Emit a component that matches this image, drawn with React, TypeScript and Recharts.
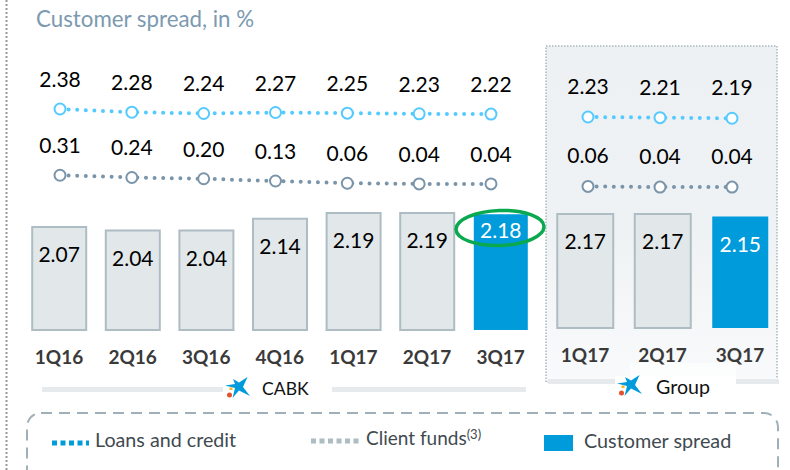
import React from "react";
import { ComposedChart, Bar, Line, XAxis, YAxis, Cell, LabelList } from "recharts";

const cabkQuarters = ["1Q16", "2Q16", "3Q16", "4Q16", "1Q17", "2Q17", "3Q17"];
const cabkLoans = [2.38, 2.28, 2.24, 2.27, 2.25, 2.23, 2.22];
const cabkFunds = [0.31, 0.24, 0.2, 0.13, 0.06, 0.04, 0.04];
const cabkSpread = [2.07, 2.04, 2.04, 2.14, 2.19, 2.19, 2.18];

const groupQuarters = ["1Q17", "2Q17", "3Q17"];
const groupLoans = [2.23, 2.21, 2.19];
const groupFunds = [0.06, 0.04, 0.04];
const groupSpread = [2.17, 2.17, 2.15];

const FONT = "Lato, Carlito, sans-serif";
const BLUE = "#009bdb";
const LOAN = "#55caff";
const FUND = "#7a94aa";
const GREY = "#e2e7ea";
const GREY_EDGE = "#aebcc4";

const build = (q: string[], l: number[], f: number[], s: number[]) =>
  q.map((quarter, i) => ({ quarter, loans: l[i], funds: f[i], spread: s[i] }));

const cabkData = build(cabkQuarters, cabkLoans, cabkFunds, cabkSpread);
const groupData = build(groupQuarters, groupLoans, groupFunds, groupSpread);

const fmt = (v: any) => Number(v).toFixed(2);

function barLabel(lastIndex: number, raisedIndex: number | null, lastOffset: number) {
  return (p: any) => {
    const { x, y, width, value, index } = p;
    const isLast = index === lastIndex;
    const dy = index === raisedIndex ? 24 : isLast ? lastOffset : 35;
    return (
      <text
        x={x + width / 2}
        y={y + dy}
        textAnchor="middle"
        fontFamily={FONT}
        fontSize={21}
        fill={isLast ? "#fff" : "#000"}
      >
        {fmt(value)}
      </text>
    );
  };
}

function Panel(props: {
  data: any[];
  left: number;
  right: number;
  bottom: number;
  barSize: number;
  lineAxisPad: { left: number; right: number };
  barDomain: [number, number];
  lineDomain: [number, number];
  raisedIndex: number | null;
  lastOffset: number;
  labelOffset: number;
}) {
  const { data, left, right, bottom, barSize, lineAxisPad, barDomain, lineDomain, raisedIndex, lastOffset, labelOffset } = props;
  const last = data.length - 1;
  return (
    <ComposedChart
      width={790}
      height={470}
      data={data}
      margin={{ top: 0, left, right, bottom: bottom - 40 }}
      style={{ position: "absolute", left: 0, top: 0 }}
    >
      <XAxis
        xAxisId="bars"
        dataKey="quarter"
        height={40}
        axisLine={false}
        tickLine={false}
        tickMargin={15}
        interval={0}
        tick={{ fontFamily: FONT, fontSize: 19, fontWeight: 700, fill: "#3a3a3a" }}
      />
      <XAxis xAxisId="lines" dataKey="quarter" hide padding={lineAxisPad} />
      <YAxis yAxisId="bars" hide domain={barDomain} />
      <YAxis yAxisId="lines" hide domain={lineDomain} />
      <Bar xAxisId="bars" yAxisId="bars" dataKey="spread" barSize={barSize} isAnimationActive={false}>
        {data.map((_, i) => (
          <Cell
            key={i}
            fill={i === last ? BLUE : GREY}
            stroke={i === last ? BLUE : GREY_EDGE}
            strokeWidth={i === last ? 0 : 2}
          />
        ))}
        <LabelList dataKey="spread" content={barLabel(last, raisedIndex, lastOffset)} />
      </Bar>
      {(["loans", "funds"] as const).map((key) => {
        const color = key === "loans" ? LOAN : FUND;
        return (
          <Line
            key={key}
            xAxisId="lines"
            yAxisId="lines"
            dataKey={key}
            stroke={color}
            strokeWidth={4}
            strokeLinecap="round"
            strokeDasharray="0 8.6"
            isAnimationActive={false}
            dot={{ r: 5.5, fill: "#fff", stroke: color, strokeWidth: 2, strokeDasharray: "0" }}
          >
            <LabelList
              dataKey={key}
              position="top"
              offset={labelOffset}
              formatter={fmt}
              style={{ fontFamily: FONT, fontSize: 21, fill: "#000" }}
            />
          </Line>
        );
      })}
    </ComposedChart>
  );
}

function Logo({ x, y }: { x: number; y: number }) {
  return (
    <g transform={`translate(${x} ${y})`}>
      <path
        d="M0 8.5 L10 7 L8 2 L14 5.5 L22.5 0 L18 10 L25 19 L14 13.5 L7.5 21 L10 11 Z"
        fill={BLUE}
      />
      <rect x="4.5" y="10.5" width="3" height="2.5" fill="#f5b81e" />
      <circle cx="4.5" cy="18" r="2.5" fill="#e5512b" />
    </g>
  );
}

export default function App() {
  return (
    <div style={{ position: "absolute", left: 0, top: 0, width: 790, height: 470, background: "#fff", overflow: "hidden" }}>
      <svg width={790} height={470} style={{ position: "absolute", left: 0, top: 0 }} fontFamily={FONT}>
        <defs>
          <linearGradient id="panel" x1="0" y1="0" x2="0" y2="1">
            <stop offset="0" stopColor="#eef1f3" />
            <stop offset="0.55" stopColor="#eff2f4" />
            <stop offset="1" stopColor="#f9fafb" />
          </linearGradient>
        </defs>
        <line x1={6.5} y1={0} x2={6.5} y2={470} stroke="#9a9a9a" strokeWidth={2} strokeDasharray="2 2" />
        <text x={36} y={27} fontSize={22.3} fill="#7c9ab0">Customer spread, in %</text>
        <rect x={546} y={46} width={231} height={336} fill="url(#panel)" stroke="#a9b7c0" strokeWidth={1.5} strokeDasharray="1.5 1.5" />
        <rect x={42} y={387} width={181} height={5} fill="#e6eaed" />
        <rect x={332} y={387} width={194} height={5} fill="#e6eaed" />
        <rect x={548} y={379} width={231} height={5} fill="#e6eaed" />
        <rect x={615} y={376} width={121} height={26} fill="#fff" />
        <rect x={630} y={363} width={106} height={14} fill="#fff" opacity={0.6} />
        <Logo x={225} y={377} />
        <text x={262} y={395} fontSize={17.6} fill="#111">CABK</text>
        <Logo x={617} y={375} />
        <text x={656} y={394} fontSize={19.6} fill="#111">Group</text>
        <rect x={27} y={413} width={751} height={80} rx={14} fill="none" stroke="#a0afb8" strokeWidth={2} strokeDasharray="11 7" />
        <line x1={52} y1={443} x2={89} y2={443} stroke={BLUE} strokeWidth={5} strokeDasharray="5 3.5" />
        <text x={95} y={447} fontSize={19.7} fill="#3f4a50">Loans and credit</text>
        <line x1={311} y1={441} x2={361} y2={441} stroke="#aebcc4" strokeWidth={5} strokeDasharray="5 3.5" />
        <text x={366} y={445} fontSize={19} fill="#3f4a50">
          Client funds<tspan fontSize={13} dy={-6}>(3)</tspan>
        </text>
        <rect x={544} y={435} width={29} height={16} fill={BLUE} />
        <text x={584} y={448} fontSize={19.8} fill="#3f4a50">Customer spread</text>
      </svg>
      <Panel
        data={cabkData}
        left={22.2}
        right={252.6}
        bottom={140}
        barSize={54}
        lineAxisPad={{ left: 1.9, right: 10.5 }}
        barDomain={[1.19, 4.01]}
        lineDomain={[-4.526, 5.786]}
        raisedIndex={6}
        lastOffset={24}
        labelOffset={22}
      />
      <Panel
        data={groupData}
        left={546.25}
        right={11.25}
        bottom={142}
        barSize={56}
        lineAxisPad={{ left: 5.75, right: 10.75 }}
        barDomain={[1.196, 4.0]}
        lineDomain={[-4.364, 5.886]}
        raisedIndex={null}
        lastOffset={36}
        labelOffset={23}
      />
      <svg width={790} height={470} style={{ position: "absolute", left: 0, top: 0, pointerEvents: "none" }}>
        <ellipse cx={500} cy={228} rx={44} ry={17.5} fill="none" stroke="#0aa84f" strokeWidth={3.5} transform="rotate(-2 500 228)" />
      </svg>
    </div>
  );
}
